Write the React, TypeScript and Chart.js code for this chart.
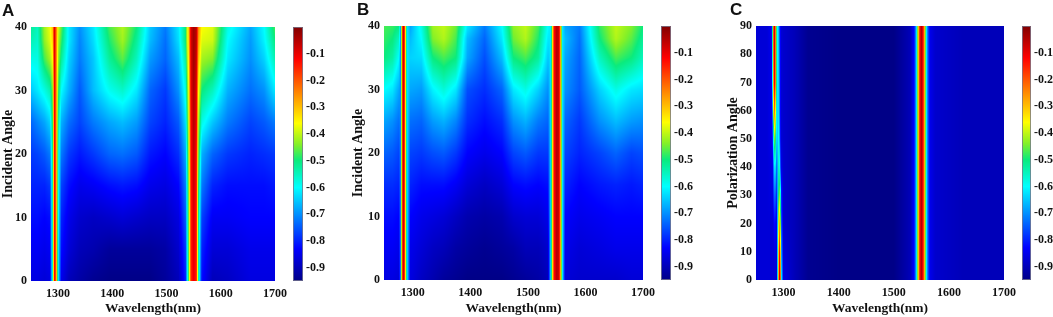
import React, { useEffect, useRef } from "react";
import { Chart, registerables } from "chart.js";

Chart.register(...registerables);

const wavelengthTicks = [1300, 1400, 1500, 1600, 1700];
const incidentTicks = [0, 10, 20, 30, 40];
const polarTicks = [0, 10, 20, 30, 40, 50, 60, 70, 80, 90];
const barTicks = [-0.9, -0.8, -0.7, -0.6, -0.5, -0.4, -0.3, -0.2, -0.1];
const barLevels = [-0.95, -0.9, -0.8, -0.7, -0.6, -0.5, -0.4, -0.3, -0.2, -0.1, 0];

const anglesAB = [0, 5, 10, 15, 20, 25, 30, 35, 38, 40];
const anglesC = [0, 10, 20, 30, 40, 50, 60, 70, 80, 90];

const lambdaA = [1250,1262,1275,1285,1290,1293,1296,1300,1306,1320,1340,1365,1395,1419,1445,1470,1498,1522,1535,1541,1545,1550,1555,1559,1565,1585,1613,1655,1680,1700];
const valuesA = [
  [-.86,-.86,-.87,-.86,-.55,-.12,-.2,-.6,-.85,-.9,-.92,-.94,-.95,-.95,-.95,-.95,-.93,-.9,-.8,-.45,-.16,-.1,-.15,-.55,-.82,-.9,-.89,-.86,-.86,-.86],
  [-.84,-.84,-.85,-.84,-.52,-.12,-.2,-.6,-.82,-.87,-.9,-.91,-.93,-.93,-.93,-.93,-.92,-.88,-.78,-.44,-.15,-.09,-.14,-.54,-.8,-.87,-.87,-.85,-.85,-.85],
  [-.82,-.82,-.83,-.82,-.52,-.12,-.2,-.58,-.8,-.85,-.88,-.89,-.88,-.87,-.88,-.89,-.89,-.86,-.75,-.43,-.15,-.08,-.14,-.52,-.77,-.84,-.84,-.83,-.83,-.83],
  [-.8,-.8,-.8,-.78,-.52,-.12,-.2,-.56,-.77,-.82,-.85,-.84,-.82,-.81,-.82,-.85,-.86,-.83,-.72,-.42,-.14,-.07,-.13,-.5,-.72,-.8,-.82,-.82,-.82,-.81],
  [-.78,-.77,-.75,-.72,-.5,-.12,-.2,-.55,-.72,-.78,-.81,-.78,-.74,-.73,-.75,-.81,-.83,-.79,-.68,-.4,-.13,-.06,-.12,-.46,-.67,-.74,-.78,-.8,-.79,-.78],
  [-.74,-.71,-.68,-.64,-.48,-.11,-.2,-.52,-.67,-.73,-.77,-.72,-.68,-.66,-.69,-.77,-.8,-.75,-.63,-.38,-.12,-.05,-.1,-.42,-.58,-.65,-.72,-.77,-.75,-.72],
  [-.65,-.62,-.58,-.54,-.44,-.1,-.2,-.47,-.6,-.67,-.75,-.66,-.59,-.56,-.62,-.74,-.78,-.7,-.58,-.36,-.1,-.04,-.09,-.36,-.5,-.55,-.67,-.73,-.7,-.62],
  [-.58,-.58,-.47,-.42,-.36,-.09,-.2,-.42,-.52,-.64,-.72,-.65,-.52,-.46,-.55,-.69,-.74,-.66,-.53,-.33,-.09,-.03,-.07,-.3,-.42,-.44,-.62,-.7,-.64,-.54],
  [-.54,-.56,-.43,-.38,-.32,-.08,-.2,-.4,-.48,-.62,-.71,-.63,-.49,-.42,-.52,-.66,-.73,-.63,-.5,-.31,-.08,-.03,-.06,-.27,-.38,-.39,-.6,-.69,-.61,-.5],
  [-.52,-.55,-.42,-.37,-.3,-.08,-.2,-.38,-.46,-.62,-.7,-.62,-.47,-.41,-.5,-.65,-.72,-.62,-.5,-.3,-.08,-.03,-.06,-.25,-.36,-.38,-.58,-.68,-.6,-.47],
];

const lambdaB = [1250,1265,1276,1279,1281,1283,1285,1287,1290,1296,1315,1335,1354,1375,1395,1425,1455,1475,1496,1518,1535,1540,1543,1546,1550,1554,1557,1560,1565,1590,1625,1653,1680,1700];
const peakB1 = [-.7,-.3,-.06,-.1,-.3,-.62];
const peakB2 = [-.62,-.3,-.12,-.05,-.08,-.3,-.62];
const valuesB = [
  [-.86,-.86,-.87,...peakB1,-.86,-.89,-.91,-.93,-.94,-.95,-.95,-.95,-.94,-.93,-.92,-.9,...peakB2,-.87,-.88,-.88,-.88,-.87,-.87],
  [-.84,-.84,-.85,...peakB1,-.85,-.87,-.89,-.9,-.92,-.93,-.94,-.93,-.92,-.9,-.9,-.88,...peakB2,-.85,-.87,-.86,-.85,-.85,-.85],
  [-.82,-.82,-.83,...peakB1,-.83,-.85,-.86,-.87,-.89,-.91,-.92,-.91,-.88,-.87,-.87,-.85,...peakB2,-.83,-.85,-.84,-.83,-.83,-.83],
  [-.79,-.79,-.8,...peakB1,-.8,-.82,-.82,-.82,-.84,-.87,-.89,-.87,-.83,-.82,-.83,-.82,...peakB2,-.8,-.83,-.81,-.8,-.81,-.8],
  [-.74,-.75,-.77,...peakB1,-.77,-.78,-.76,-.75,-.78,-.83,-.85,-.83,-.77,-.75,-.78,-.78,...peakB2,-.77,-.8,-.77,-.74,-.77,-.76],
  [-.68,-.7,-.73,...peakB1,-.73,-.74,-.69,-.67,-.71,-.79,-.82,-.79,-.7,-.67,-.72,-.74,...peakB2,-.74,-.78,-.7,-.66,-.69,-.7],
  [-.6,-.62,-.68,...peakB1,-.68,-.69,-.61,-.57,-.62,-.76,-.79,-.74,-.62,-.58,-.64,-.7,...peakB2,-.7,-.75,-.64,-.58,-.62,-.63],
  [-.5,-.53,-.6,...peakB1,-.64,-.63,-.5,-.47,-.5,-.68,-.76,-.66,-.5,-.47,-.52,-.65,...peakB2,-.68,-.74,-.55,-.47,-.5,-.55],
  [-.48,-.5,-.55,...peakB1,-.66,-.6,-.44,-.41,-.47,-.66,-.74,-.62,-.45,-.41,-.49,-.62,...peakB2,-.66,-.73,-.5,-.41,-.46,-.52],
  [-.47,-.48,-.5,...peakB1,-.68,-.58,-.42,-.4,-.45,-.62,-.72,-.6,-.43,-.4,-.47,-.6,...peakB2,-.68,-.72,-.48,-.4,-.44,-.5],
];

const lambdaC = [1250,1270,1278,1280,1282,1284,1286,1288,1290,1292,1294,1296,1300,1320,1345,1400,1500,1530,1537,1541,1544,1547,1550,1553,1556,1559,1562,1566,1575,1600,1625,1660,1700];
const restC = [-.9,-.94,-.95,-.95,-.9,-.82,-.65,-.35,-.15,-.04,-.12,-.3,-.6,-.75,-.85,-.88,-.89,-.9,-.9,-.9];
const valuesC = [
  [-.87,-.87,-.87,-.87,-.87,-.87,-.87,-.87,-.42,-.08,-.1,-.6,-.86,...restC],
  [-.87,-.87,-.87,-.87,-.87,-.86,-.86,-.87,-.45,-.12,-.2,-.68,-.87,...restC],
  [-.87,-.87,-.87,-.87,-.85,-.82,-.84,-.86,-.5,-.25,-.35,-.75,-.88,...restC],
  [-.87,-.87,-.86,-.86,-.78,-.72,-.76,-.82,-.55,-.42,-.5,-.8,-.88,...restC],
  [-.87,-.87,-.86,-.85,-.7,-.6,-.65,-.78,-.58,-.52,-.72,-.85,-.88,...restC],
  [-.87,-.87,-.85,-.8,-.55,-.42,-.52,-.7,-.58,-.62,-.8,-.87,-.88,...restC],
  [-.87,-.87,-.85,-.72,-.35,-.2,-.42,-.66,-.6,-.66,-.82,-.87,-.88,...restC],
  [-.87,-.87,-.85,-.6,-.22,-.08,-.3,-.62,-.6,-.68,-.82,-.87,-.88,...restC],
  [-.87,-.87,-.85,-.55,-.18,-.06,-.3,-.6,-.6,-.7,-.82,-.87,-.88,...restC],
  [-.87,-.87,-.84,-.5,-.15,-.06,-.3,-.6,-.6,-.72,-.83,-.87,-.88,...restC],
];

const colorStops = [-0.95, -0.83, -0.6, -0.5, -0.44, -0.36, -0.12, 0];
const colorRed = [0, 0, 0, 10, 130, 255, 255, 128];
const colorGreen = [0, 0, 255, 235, 240, 255, 0, 0];
const colorBlue = [135, 255, 255, 125, 40, 0, 0, 0];

const SERIF = '"Liberation Serif", serif';

function locate(arr: number[], v: number): [number, number] {
  let i = 0;
  while (i < arr.length - 2 && v > arr[i + 1]) i++;
  const f = (v - arr[i]) / (arr[i + 1] - arr[i]);
  return [i, Math.max(0, Math.min(1, f))];
}

function colorOf(v: number): [number, number, number] {
  const [i, f] = locate(colorStops, v);
  const mix = (c: number[]) => Math.round(c[i] + (c[i + 1] - c[i]) * f);
  return [mix(colorRed), mix(colorGreen), mix(colorBlue)];
}

const heatPlugin = {
  id: "heat",
  beforeDatasetsDraw(chart: any, _a: any, opts: any) {
    const { xs, ys, values, frame } = opts;
    if (!xs) return;
    const { ctx, chartArea: ca, scales } = chart;
    const L = Math.round(ca.left), T = Math.round(ca.top);
    const W = Math.round(ca.right) - L, H = Math.round(ca.bottom) - T;
    const img = ctx.createImageData(W, H);
    for (let py = 0; py < H; py++) {
      const [j, fy] = locate(ys, scales.y.getValueForPixel(T + py + 0.5));
      for (let px = 0; px < W; px++) {
        const [i, fx] = locate(xs, scales.x.getValueForPixel(L + px + 0.5));
        const a = values[j][i] * (1 - fx) + values[j][i + 1] * fx;
        const b = values[j + 1][i] * (1 - fx) + values[j + 1][i + 1] * fx;
        const [r, g, bl] = colorOf(a * (1 - fy) + b * fy);
        const o = (py * W + px) * 4;
        img.data[o] = r; img.data[o + 1] = g; img.data[o + 2] = bl; img.data[o + 3] = 255;
      }
    }
    ctx.putImageData(img, L, T);
    if (frame) {
      ctx.save();
      ctx.strokeStyle = frame;
      ctx.lineWidth = 1;
      ctx.strokeRect(L + 0.5, T + 0.5, W - 1, H - 1);
      ctx.restore();
    }
  },
};

function toPoints(xs: number[], ys: number[], values: number[][]) {
  const pts: any[] = [];
  ys.forEach((y, j) => xs.forEach((x, i) => pts.push({ x, y, v: values[j][i] })));
  return pts;
}

function heatChart(canvas: HTMLCanvasElement, p: any) {
  return new Chart(canvas, {
    type: "scatter",
    data: { datasets: [{ label: p.letter, data: toPoints(p.xs, p.ys, p.values), pointRadius: 0 }] },
    plugins: [heatPlugin],
    options: {
      animation: false, responsive: false,
      layout: { padding: { top: p.top, right: p.w - p.axisW - p.plotW, left: 0, bottom: 0 } },
      plugins: { legend: { display: false }, tooltip: { enabled: false }, heat: { xs: p.xs, ys: p.ys, values: p.values } },
      scales: {
        x: {
          type: "linear", min: 1250, max: 1700,
          grid: { display: false, drawTicks: false }, border: { display: false },
          afterBuildTicks: (s: any) => { s.ticks = wavelengthTicks.map((value) => ({ value })); },
          afterFit: (s: any) => { s.height = 317 - p.top - p.plotH; },
          ticks: { color: "#111", padding: 6, maxRotation: 0, font: { family: SERIF, size: 12, weight: "bold" }, callback: (v: any) => String(v) },
          title: { display: true, text: "Wavelength(nm)", color: "#111", padding: { top: 0, bottom: 0 }, font: { family: SERIF, size: 13.5, weight: "bold" } },
        },
        y: {
          type: "linear", min: p.ys[0], max: p.ys[p.ys.length - 1],
          grid: { display: false, drawTicks: false }, border: { display: false },
          afterBuildTicks: (s: any) => { s.ticks = p.yTicks.map((value: number) => ({ value })); },
          afterFit: (s: any) => { s.width = p.axisW; },
          ticks: { color: "#111", padding: 4, font: { family: SERIF, size: 12, weight: "bold" }, callback: (v: any) => String(v) },
          title: { display: true, text: p.yTitle, color: "#111", padding: { top: 0, bottom: 0 }, font: { family: SERIF, size: 14, weight: "bold" } },
        },
      },
    } as any,
  });
}

function barChart(canvas: HTMLCanvasElement, p: any) {
  const xs = [0, 1];
  const values = barLevels.map((v) => [v, v]);
  return new Chart(canvas, {
    type: "scatter",
    data: { datasets: [{ label: "colorbar", data: toPoints(xs, barLevels, values), pointRadius: 0 }] },
    plugins: [heatPlugin],
    options: {
      animation: false, responsive: false,
      layout: { padding: { top: p.top, bottom: 317 - p.top - p.plotH, left: 0, right: 0 } },
      plugins: { legend: { display: false }, tooltip: { enabled: false }, heat: { xs, ys: barLevels, values, frame: "rgba(120,120,140,0.8)" } },
      scales: {
        x: { type: "linear", min: 0, max: 1, display: false },
        y: {
          type: "linear", position: "right", min: -0.95, max: 0,
          grid: { display: false, drawTicks: false }, border: { display: false },
          afterBuildTicks: (s: any) => { s.ticks = barTicks.map((value) => ({ value })); },
          afterFit: (s: any) => { s.width = p.barCanvasW - p.barW; },
          ticks: { color: "#111", padding: 3, font: { family: SERIF, size: 12, weight: "bold" }, callback: (v: any) => Number(v).toFixed(1) },
        },
      },
    } as any,
  });
}

const panels = [
  { letter: "A", letterX: 2, letterY: -1, left: 0, w: 293, axisW: 31, plotW: 246, top: 27, plotH: 254, xs: lambdaA, ys: anglesAB, values: valuesA, yTicks: incidentTicks, yTitle: "Incident Angle", barLeft: 293, barW: 10, barCanvasW: 34 },
  { letter: "B", letterX: 357, letterY: -2, left: 350, w: 311, axisW: 34, plotW: 263, top: 26, plotH: 254, xs: lambdaB, ys: anglesAB, values: valuesB, yTicks: incidentTicks, yTitle: "Incident Angle", barLeft: 661, barW: 10, barCanvasW: 34 },
  { letter: "C", letterX: 730, letterY: -2, left: 725, w: 297, axisW: 31, plotW: 248, top: 26, plotH: 254, xs: lambdaC, ys: anglesC, values: valuesC, yTicks: polarTicks, yTitle: "Polarization Angle", barLeft: 1022, barW: 9, barCanvasW: 31 },
];

function Panel({ p }: { p: any }) {
  const heatRef = useRef<HTMLCanvasElement>(null);
  const barRef = useRef<HTMLCanvasElement>(null);
  useEffect(() => {
    const a = heatChart(heatRef.current!, p);
    const b = barChart(barRef.current!, p);
    return () => { a.destroy(); b.destroy(); };
  }, [p]);
  return (
    <>
      <canvas ref={heatRef} width={p.w} height={317} style={{ position: "absolute", left: p.left, top: 0, width: p.w, height: 317 }} />
      <canvas ref={barRef} width={p.barCanvasW} height={317} style={{ position: "absolute", left: p.barLeft, top: 0, width: p.barCanvasW, height: 317 }} />
      <div style={{ position: "absolute", left: p.letterX, top: p.letterY, font: 'bold 17px/24px "Liberation Sans", sans-serif', color: "#111" }}>{p.letter}</div>
    </>
  );
}

export default function App() {
  return (
    <div style={{ position: "fixed", left: 0, top: 0, width: 1053, height: 317, background: "#fff", overflow: "hidden" }}>
      {panels.map((p) => <Panel key={p.letter} p={p} />)}
    </div>
  );
}
